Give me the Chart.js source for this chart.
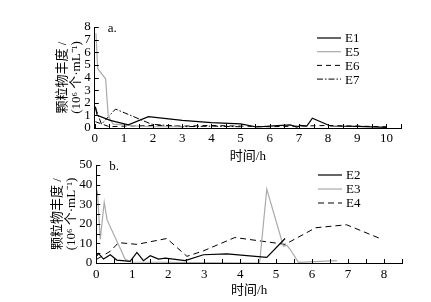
<!DOCTYPE html>
<html>
<head>
<meta charset="utf-8">
<script src="https://cdn.jsdelivr.net/npm/chart.js@4.4.0/dist/chart.umd.min.js"></script>
<style>
  html, body { margin: 0; padding: 0; background: #fff; }
  .box { position: absolute; left: 0; width: 431px; }
  #boxA { top: 0; height: 163px; }
  #boxB { top: 150px; height: 147px; }
</style>
</head>
<body>
<div class="box" id="boxA"><canvas id="chartA"></canvas></div>
<div class="box" id="boxB"><canvas id="chartB"></canvas></div>
<script>
// panel a
const e1Time = [0.02, 0.08, 0.53, 1.15, 1.84, 3, 4, 5, 5.55, 6, 6.7, 6.93, 7.05, 7.27, 7.46, 8.08, 9, 10];
const e1Val  = [1.7, 1.0, 0.6, 0.25, 0.9, 0.6, 0.42, 0.32, 0.08, 0.15, 0.24, 0.08, 0.2, 0.15, 0.78, 0.16, 0.13, 0.05];
const e5Time = [0.04, 0.1, 0.37, 0.46, 0.63, 1, 1.5, 2, 3];
const e5Val  = [7.5, 4.7, 3.9, 0.96, 0.3, 0.25, 0.15, 0.1, 0.1];
const e6Time = [0.02, 0.5, 1, 2, 3, 4, 5, 6, 7, 8, 9, 10];
const e6Val  = [0.5, 0.1, 0.15, 0.2, 0.15, 0.2, 0.15, 0.1, 0.15, 0.2, 0.15, 0.1];
const e7Time = [0.02, 0.23, 0.71, 1.95, 3, 4, 5];
const e7Val  = [1.6, 0.3, 1.5, 0.3, 0.1, 0.15, 0.1];

// panel b
const e2Time = [0.02, 0.06, 0.2, 0.39, 0.57, 0.94, 1.13, 1.31, 1.5, 1.73, 1.92, 2.47, 2.98, 3.63, 4.74, 5.25];
const e2Val  = [3.7, 4.9, 2, 4.2, 1.5, 0.8, 5.4, 1.2, 3.7, 2, 2.5, 1.2, 4.2, 4.7, 2.9, 12.5];
const e3Time = [0.03, 0.11, 0.22, 0.3, 0.8, 0.95, 4.54, 4.74, 5.2, 5.3, 5.39, 5.62, 6.69];
const e3Val  = [37, 12, 31, 22, 2, 0.5, 0, 37.7, 8.7, 9, 7, 0.3, 1.2];
const e4Time = [0.02, 0.39, 0.62, 1.13, 1.96, 2.52, 2.98, 3.85, 4.74, 5.25, 6.1, 6.96, 7.89];
const e4Val  = [2, 6, 10.4, 9.5, 12.5, 3.4, 6.2, 13, 10.8, 9.5, 18, 19.5, 12.5];

const serif = '"Liberation Serif", "Noto Sans CJK SC", serif';
const yTitle = ['颗粒物丰度 /', '(10⁶ 个·mL⁻¹)'];

function pts(t, v) {
    return t.map((x, i) => ({ x: x, y: v[i] }));
}

// ticks pointing into the plot, like the original figure
const innerTicks = {
    id: 'innerTicks',
    afterDraw(chart) {
        const ctx = chart.ctx;
        const xs = chart.scales.x, ys = chart.scales.y;
        ctx.save();
        ctx.strokeStyle = '#000';
        ctx.lineWidth = 1;
        ctx.beginPath();
        xs.ticks.forEach(t => {
            const px = Math.round(xs.getPixelForValue(t.value)) + 0.5;
            ctx.moveTo(px, ys.bottom);
            ctx.lineTo(px, ys.bottom - 4);
        });
        ys.ticks.forEach(t => {
            const py = Math.round(ys.getPixelForValue(t.value)) + 0.5;
            ctx.moveTo(xs.left, py);
            ctx.lineTo(xs.left + 4, py);
        });
        ctx.stroke();
        ctx.restore();
    }
};

// panel letter and legend inside the plot area
const annot = {
    id: 'annot',
    afterDraw(chart, args, opts) {
        const ctx = chart.ctx;
        const a = chart.chartArea;
        ctx.save();
        ctx.fillStyle = '#000';
        ctx.font = '13px ' + serif;
        ctx.textBaseline = 'middle';
        ctx.fillText(opts.letter, a.left + 13, a.top + 2);
        chart.data.datasets.forEach((ds, i) => {
            const y = a.top + opts.legendTop + i * opts.legendStep;
            ctx.beginPath();
            ctx.strokeStyle = ds.borderColor;
            ctx.lineWidth = ds.borderWidth;
            ctx.setLineDash(ds.borderDash || []);
            ctx.moveTo(a.right - 84, y);
            ctx.lineTo(a.right - 60, y);
            ctx.stroke();
            ctx.setLineDash([]);
            ctx.fillStyle = '#000';
            ctx.fillText(ds.label, a.right - 56, y + 1);
        });
        ctx.restore();
    }
};

function makeChart(id, datasets, xMax, yMax, yStep, yLabelStep, letter, pad, tickPad, titleGap, legendTop, legendStep) {
    return new Chart(document.getElementById(id), {
        type: 'line',
        data: { datasets: datasets },
        plugins: [innerTicks, annot],
        options: {
            responsive: true,
            maintainAspectRatio: false,
            animation: false,
            layout: { padding: pad },
            elements: { point: { radius: 0 }, line: { tension: 0 } },
            plugins: {
                legend: { display: false },
                tooltip: { enabled: false },
                annot: { letter: letter, legendTop: legendTop, legendStep: legendStep }
            },
            scales: {
                x: {
                    type: 'linear',
                    min: 0,
                    max: xMax,
                    grid: { display: false, drawTicks: false, tickLength: 0 },
                    border: { display: true, color: '#000', width: 1 },
                    ticks: {
                        stepSize: 0.5,
                        autoSkip: false,
                        maxRotation: 0,
                        padding: tickPad,
                        color: '#000',
                        font: { family: serif, size: 13, lineHeight: 1 },
                        callback: v => Number.isInteger(v) && v < xMax ? v : ''
                    },
                    title: {
                        display: true,
                        text: '时间/h',
                        color: '#000',
                        padding: { top: titleGap, bottom: 0 },
                        font: { family: serif, size: 13, lineHeight: 1 }
                    }
                },
                y: {
                    min: 0,
                    max: yMax,
                    grid: { display: false, drawTicks: false, tickLength: 0 },
                    border: { display: true, color: '#000', width: 1 },
                    ticks: {
                        stepSize: yStep,
                        autoSkip: false,
                        padding: 4,
                        color: '#000',
                        font: { family: serif, size: 13 },
                        callback: v => v % yLabelStep === 0 ? v : ''
                    },
                    title: {
                        display: true,
                        text: yTitle,
                        color: '#000',
                        padding: { top: 0, bottom: -3 },
                        font: { family: serif, size: 13, lineHeight: 1.05 }
                    }
                }
            }
        }
    });
}

makeChart('chartA', [
    { label: 'E1', data: pts(e1Time, e1Val), borderColor: '#000', borderWidth: 1.2 },
    { label: 'E5', data: pts(e5Time, e5Val), borderColor: '#aaa', borderWidth: 1.2 },
    { label: 'E6', data: pts(e6Time, e6Val), borderColor: '#000', borderWidth: 1, borderDash: [5, 4] },
    { label: 'E7', data: pts(e7Time, e7Val), borderColor: '#000', borderWidth: 1, borderDash: [6, 2, 1.5, 2] }
], 10.5, 8, 1, 1, 'a.', { left: 56, right: 30, top: 27, bottom: 0 }, 4.5, 0, 11, 13.7);

makeChart('chartB', [
    { label: 'E2', data: pts(e2Time, e2Val), borderColor: '#000', borderWidth: 1.2 },
    { label: 'E3', data: pts(e3Time, e3Val), borderColor: '#aaa', borderWidth: 1.2 },
    { label: 'E4', data: pts(e4Time, e4Val), borderColor: '#000', borderWidth: 1, borderDash: [6, 4] }
], 8.5, 50, 5, 10, 'b.', { left: 51, right: 29, top: 15, bottom: 0 }, 5.5, -3, 10, 14);
</script>
</body>
</html>
